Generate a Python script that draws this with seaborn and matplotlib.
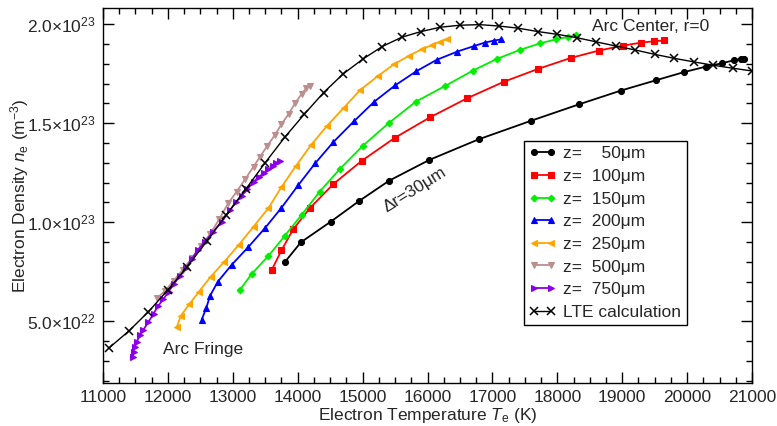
import numpy as np
import pandas as pd
import matplotlib
matplotlib.use("Agg")
import matplotlib.pyplot as plt
import seaborn as sns
from matplotlib.ticker import FixedLocator, MultipleLocator

# ---------------- data (n in units of 1e23 m^-3, T in K) ----------------
lte_T = [11100, 11400, 11700, 12000, 12300, 12600, 12900, 13200, 13500, 13800,
         14100, 14400, 14700, 15000, 15300, 15600, 15900, 16200, 16500, 16800,
         17100, 17400, 17700, 18000, 18300, 18600, 18900, 19200, 19500, 19800,
         20100, 20400, 20700, 21000]
lte_n = [0.367, 0.451, 0.548, 0.658, 0.776, 0.905, 1.037, 1.167, 1.301, 1.429,
         1.545, 1.655, 1.749, 1.823, 1.887, 1.934, 1.963, 1.985, 1.995, 1.998,
         1.991, 1.980, 1.963, 1.949, 1.932, 1.911, 1.890, 1.870, 1.848, 1.828,
         1.810, 1.793, 1.778, 1.764]

z50_T = [13800, 14050, 14510, 14950, 15410, 16030, 16790, 17600, 18340, 18980,
         19520, 19950, 20290, 20540, 20720, 20830, 20880]
z50_n = [0.798, 0.899, 1.003, 1.108, 1.210, 1.315, 1.419, 1.513, 1.596, 1.665,
         1.717, 1.758, 1.786, 1.803, 1.818, 1.825, 1.826]

z100_T = [13600, 13750, 13930, 14190, 14550, 14990, 15500, 16040, 16610, 17180,
          17710, 18210, 18640, 19010, 19290, 19490, 19640]
z100_n = [0.759, 0.858, 0.964, 1.072, 1.193, 1.311, 1.427, 1.530, 1.626, 1.710,
          1.775, 1.830, 1.867, 1.892, 1.907, 1.914, 1.918]

z150_T = [13110, 13290, 13550, 13800, 14060, 14340, 14650, 15000, 15400, 15820,
          16270, 16700, 17070, 17420, 17730, 17980, 18170, 18290]
z150_n = [0.658, 0.739, 0.830, 0.931, 1.037, 1.155, 1.269, 1.385, 1.500, 1.609,
          1.688, 1.766, 1.825, 1.870, 1.903, 1.924, 1.936, 1.946]

z200_T = [12520, 12590, 12650, 12770, 12980, 13240, 13500, 13750, 14010, 14270,
          14550, 14870, 15180, 15500, 15830, 16140, 16460, 16710, 16880, 17020, 17140]
z200_n = [0.507, 0.566, 0.629, 0.700, 0.784, 0.875, 0.972, 1.073, 1.188, 1.298,
          1.405, 1.511, 1.609, 1.691, 1.763, 1.820, 1.862, 1.889, 1.907, 1.917, 1.924]

z250_T = [12140, 12200, 12330, 12480, 12660, 12870, 13090, 13320, 13550, 13750,
          13970, 14200, 14450, 14710, 14960, 15230, 15480, 15720, 15910, 16070,
          16190, 16300]
z250_n = [0.473, 0.528, 0.586, 0.650, 0.725, 0.801, 0.885, 0.978, 1.072, 1.178,
          1.283, 1.388, 1.486, 1.578, 1.667, 1.737, 1.797, 1.842, 1.873, 1.895,
          1.912, 1.925]

z500_T = [11830, 11960, 12090, 12230, 12370, 12510, 12650, 12790, 12930, 13060,
          13190, 13320, 13420, 13530, 13650, 13750, 13860, 13960, 14060, 14130, 14190]
z500_n = [0.615, 0.655, 0.705, 0.760, 0.820, 0.880, 0.940, 1.015, 1.096, 1.155,
          1.217, 1.281, 1.331, 1.385, 1.441, 1.495, 1.547, 1.601, 1.648, 1.677, 1.688]

z750_T = [11460, 11470, 11490, 11520, 11570, 11620, 11700, 11780, 11850, 11930,
          12010, 12090, 12190, 12280, 12370, 12460, 12570, 12700, 12830, 12960,
          13050, 13140, 13220, 13320, 13400, 13480, 13550, 13620, 13670, 13730]
z750_n = [0.320, 0.345, 0.371, 0.396, 0.430, 0.456, 0.496, 0.539, 0.577, 0.612,
          0.648, 0.689, 0.729, 0.769, 0.815, 0.860, 0.901, 0.953, 1.003, 1.062,
          1.103, 1.135, 1.166, 1.204, 1.229, 1.249, 1.267, 1.284, 1.297, 1.307]

labels = ["z=    50\u03bcm", "z=  100\u03bcm", "z=  150\u03bcm", "z=  200\u03bcm",
          "z=  250\u03bcm", "z=  500\u03bcm", "z=  750\u03bcm", "LTE calculation"]

x_ticks = [11000, 12000, 13000, 14000, 15000, 16000, 17000, 18000, 19000, 20000, 21000]
y_ticks = [0.5, 1.0, 1.5, 2.0]
y_tick_labels = ["5.0\u00d710$^{22}$", "1.0\u00d710$^{23}$", "1.5\u00d710$^{23}$", "2.0\u00d710$^{23}$"]

# ---------------- styling ----------------
sns.set_style("ticks")
plt.rcParams["font.family"] = ["Liberation Sans", "DejaVu Sans"]
plt.rcParams["mathtext.fontset"] = "custom"
plt.rcParams["mathtext.rm"] = "Liberation Sans"
plt.rcParams["mathtext.it"] = "Liberation Sans:italic"
plt.rcParams["mathtext.bf"] = "Liberation Sans:bold"

FS = 12.5
fig = plt.figure(figsize=(7.77, 4.26), dpi=100)
ax = fig.add_axes([103 / 777, 1 - 383 / 426, (752 - 103) / 777, (383 - 8) / 426])

series = [
    (z50_T, z50_n, "black", "o", 4.3),
    (z100_T, z100_n, "#ff0000", "s", 4.0),
    (z150_T, z150_n, "#00ee00", "D", 3.4),
    (z200_T, z200_n, "#0000ff", "^", 4.6),
    (z250_T, z250_n, "#ffa500", "<", 4.6),
    (z500_T, z500_n, "#bc8f8f", "v", 4.6),
    (z750_T, z750_n, "#8b00e8", ">", 4.6),
]

for (T, n, c, m, ms), lab in zip(series, labels[:7]):
    df = pd.DataFrame({"T": T, "n": np.array(n) * 1e23})
    sns.lineplot(data=df, x="T", y="n", ax=ax, color=c, marker=m, markersize=ms,
                 markeredgecolor=c, markeredgewidth=0.8, linewidth=1.3,
                 sort=False, estimator=None, label=lab, zorder=3)

df_lte = pd.DataFrame({"T": lte_T, "n": np.array(lte_n) * 1e23})
sns.lineplot(data=df_lte, x="T", y="n", ax=ax, color="black", marker="x",
             markersize=5.5, markeredgecolor="black", markeredgewidth=1.1,
             linewidth=1.0, sort=False, estimator=None, label=labels[7], zorder=4)

ax.set_xlim(11000, 21000)
ax.set_ylim(0.188e23, 2.082e23)
ax.xaxis.set_major_locator(FixedLocator(x_ticks))
ax.xaxis.set_minor_locator(MultipleLocator(250))
ax.set_xticklabels([str(v) for v in x_ticks], fontsize=FS)
ax.yaxis.set_major_locator(FixedLocator([v * 1e23 for v in y_ticks]))
ax.yaxis.set_minor_locator(MultipleLocator(0.1e23))
ax.set_yticklabels(y_tick_labels, fontsize=FS)
ax.tick_params(which="both", direction="in", top=True, right=True, color="black")
ax.tick_params(which="major", length=8, width=1.0, pad=5)
ax.tick_params(which="minor", length=4.5, width=1.0)
for s in ax.spines.values():
    s.set_color("black")
    s.set_linewidth(1.0)

ax.set_xlabel("Electron Temperature $T_\\mathrm{e}$ (K)", fontsize=FS, labelpad=1)
ax.set_ylabel("Electron Density $n_\\mathrm{e}$ (m$^{-3}$)", fontsize=FS, labelpad=-3)

ax.text(0.753, 0.95, "Arc Center, r=0", transform=ax.transAxes, fontsize=FS,
        ha="left", va="center")
ax.text(0.093, 0.09, "Arc Fringe", transform=ax.transAxes, fontsize=FS,
        ha="left", va="center")
ax.text(15800, 1.165e23, "\u0394r=30\u03bcm", fontsize=FS, rotation=32,
        ha="center", va="center", rotation_mode="anchor")

leg = ax.legend(loc="upper left", bbox_to_anchor=(0.648, 0.645), fontsize=FS,
                frameon=True, fancybox=False, edgecolor="black", framealpha=1,
                numpoints=2, handlelength=1.6, handletextpad=0.4,
                borderpad=0.3, labelspacing=0.43, borderaxespad=0)
leg.get_frame().set_linewidth(1.0)

fig.savefig("out.png", dpi=100)
